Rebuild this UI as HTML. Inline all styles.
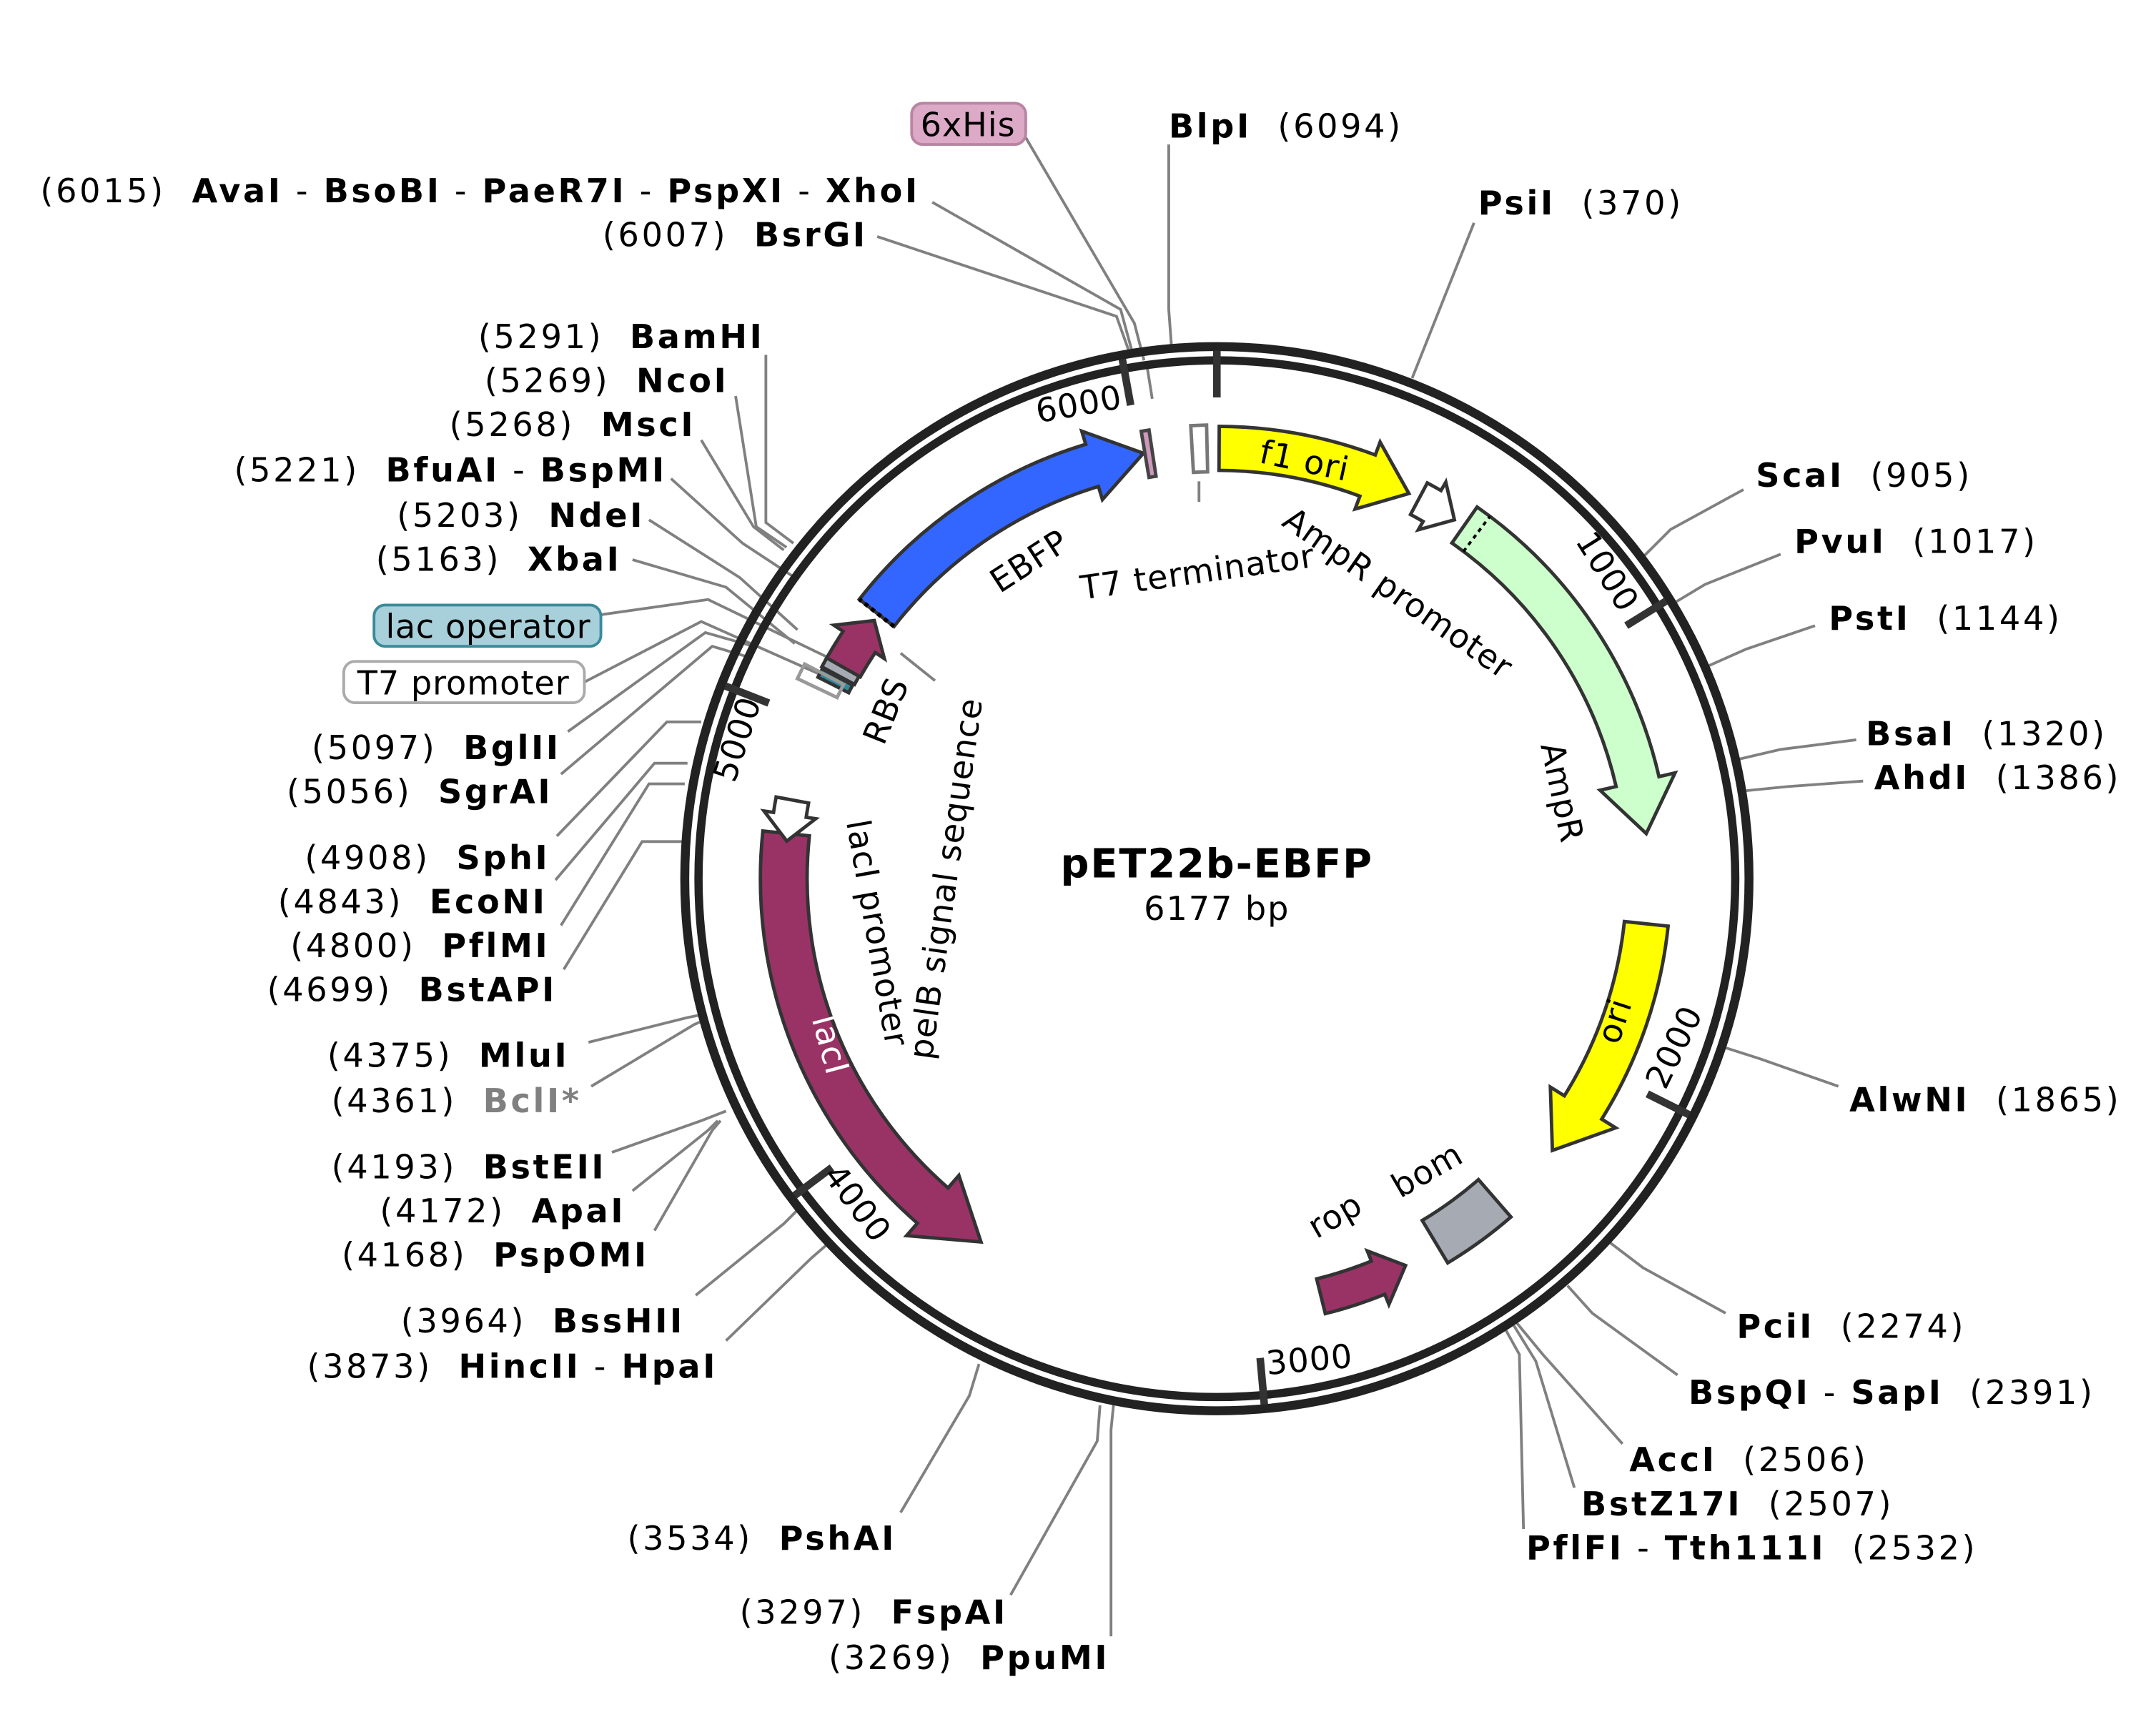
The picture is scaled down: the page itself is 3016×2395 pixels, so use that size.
<!DOCTYPE html>
<html><head><meta charset="utf-8"><style>
html,body{margin:0;padding:0;background:#fff;}
svg{display:block;}
text{font-family:"DejaVu Sans","Liberation Sans",sans-serif;font-size:24px;letter-spacing:1.9px;fill:#000;}
.b{font-weight:bold;}
.ft{font-size:24px;letter-spacing:0.5px;}
</style></head><body>
<svg id="s" xmlns="http://www.w3.org/2000/svg" width="3016" height="2395" viewBox="0 0 1568 1245">
<rect width="1568" height="1245" fill="#fff"/>
<g id="leaders" fill="none" stroke="#808080" stroke-width="2">
<polyline points="850,105 850,225 852,252"/>
<polyline points="1072,162 1027,275"/>
<polyline points="1268,356 1215,385 1195,405"/>
<polyline points="1295,403 1240,425 1215,440"/>
<polyline points="1320,455 1270,472 1243,484"/>
<polyline points="1350,538 1295,545 1265,552"/>
<polyline points="1355,568 1300,572 1270,575"/>
<polyline points="1337,790 1280,770 1255,762"/>
<polyline points="1255,955 1195,922 1170,903"/>
<polyline points="1220,1000 1158,955 1140,935"/>
<polyline points="1180,1050 1122,985 1103,962"/>
<polyline points="1145,1082 1117,990 1101,964"/>
<polyline points="1108,1112 1105,985 1095,967"/>
<polyline points="808,1190 808,1040 810,1020"/>
<polyline points="735,1160 798,1048 800,1022"/>
<polyline points="655,1100 705,1015 712,992"/>
<polyline points="528,975 590,915 605,902"/>
<polyline points="506,942 570,890 580,880"/>
<polyline points="476,895 518,822 524,815"/>
<polyline points="460,866 515,822 522,815"/>
<polyline points="445,838 510,815 528,808"/>
<polyline points="430,790 505,745 512,742"/>
<polyline points="428,758 500,740 510,738"/>
<polyline points="410,705 467,612 497,612"/>
<polyline points="408,673 472,570 498,570"/>
<polyline points="404,640 476,555 500,555"/>
<polyline points="405,608 485,525 510,525"/>
<polyline points="408,563 518,470 545,478"/>
<polyline points="413,532 513,460 548,470"/>
<polyline points="425,496 510,452 600,492"/>
<polyline points="437,447 515,436 602,478"/>
<polyline points="460,407 528,427 578,468"/>
<polyline points="472,378 538,420 580,458"/>
<polyline points="488,348 540,395 578,420"/>
<polyline points="510,320 548,383 570,400"/>
<polyline points="535,288 550,383 572,398"/>
<polyline points="557,258 557,380 577,395"/>
<polyline points="638,172 812,230 822,258"/>
<polyline points="678,147 815,225 824,258"/>
<polyline points="746,100 825,235 832,262"/>
<polyline points="834,265 838,290"/>
<polyline points="872,350 872,365"/>
<polyline points="655,475 680,495"/>
</g>
<circle cx="885" cy="639" r="387" fill="none" stroke="#222" stroke-width="6.5"/>
<circle cx="885" cy="639" r="377" fill="none" stroke="#222" stroke-width="6"/>
<g id="ticks" stroke="#333" stroke-width="5.5"></g>
<g id="feat" stroke="#333" stroke-width="2.5" stroke-linejoin="miter"></g>

<text x="850" y="100"><tspan class="b">BlpI</tspan>&#160;&#160;(6094)</text>
<text x="1075" y="156"><tspan class="b">PsiI</tspan>&#160;&#160;(370)</text>
<text x="1277" y="354"><tspan class="b">ScaI</tspan>&#160;&#160;(905)</text>
<text x="1305" y="402"><tspan class="b">PvuI</tspan>&#160;&#160;(1017)</text>
<text x="1330" y="458"><tspan class="b">PstI</tspan>&#160;&#160;(1144)</text>
<text x="1357" y="542"><tspan class="b">BsaI</tspan>&#160;&#160;(1320)</text>
<text x="1363" y="574"><tspan class="b">AhdI</tspan>&#160;&#160;(1386)</text>
<text x="1345" y="808"><tspan class="b">AlwNI</tspan>&#160;&#160;(1865)</text>
<text x="1263" y="973"><tspan class="b">PciI</tspan>&#160;&#160;(2274)</text>
<text x="1228" y="1021"><tspan class="b">BspQI</tspan> - <tspan class="b">SapI</tspan>&#160;&#160;(2391)</text>
<text x="1185" y="1070"><tspan class="b">AccI</tspan>&#160;&#160;(2506)</text>
<text x="1150" y="1102"><tspan class="b">BstZ17I</tspan>&#160;&#160;(2507)</text>
<text x="1110" y="1134"><tspan class="b">PflFI</tspan> - <tspan class="b">Tth111I</tspan>&#160;&#160;(2532)</text>
<text x="807" y="1214" text-anchor="end">(3269)&#160;&#160;<tspan class="b">PpuMI</tspan></text>
<text x="733" y="1181" text-anchor="end">(3297)&#160;&#160;<tspan class="b">FspAI</tspan></text>
<text x="652" y="1127" text-anchor="end">(3534)&#160;&#160;<tspan class="b">PshAI</tspan></text>
<text x="522" y="1002" text-anchor="end">(3873)&#160;&#160;<tspan class="b">HincII</tspan> - <tspan class="b">HpaI</tspan></text>
<text x="498" y="969" text-anchor="end">(3964)&#160;&#160;<tspan class="b">BssHII</tspan></text>
<text x="472" y="921" text-anchor="end">(4168)&#160;&#160;<tspan class="b">PspOMI</tspan></text>
<text x="455" y="889" text-anchor="end">(4172)&#160;&#160;<tspan class="b">ApaI</tspan></text>
<text x="441" y="857" text-anchor="end">(4193)&#160;&#160;<tspan class="b">BstEII</tspan></text>
<text x="423" y="809" text-anchor="end">(4361)&#160;&#160;<tspan class="b" style="fill:#808080">BclI*</tspan></text>
<text x="414" y="776" text-anchor="end">(4375)&#160;&#160;<tspan class="b">MluI</tspan></text>
<text x="405" y="728" text-anchor="end">(4699)&#160;&#160;<tspan class="b">BstAPI</tspan></text>
<text x="400" y="696" text-anchor="end">(4800)&#160;&#160;<tspan class="b">PflMI</tspan></text>
<text x="398" y="664" text-anchor="end">(4843)&#160;&#160;<tspan class="b">EcoNI</tspan></text>
<text x="400" y="632" text-anchor="end">(4908)&#160;&#160;<tspan class="b">SphI</tspan></text>
<text x="402" y="584" text-anchor="end">(5056)&#160;&#160;<tspan class="b">SgrAI</tspan></text>
<text x="408" y="552" text-anchor="end">(5097)&#160;&#160;<tspan class="b">BglII</tspan></text>
<rect x="250" y="481" width="175" height="30" rx="8" fill="#fff" stroke="#aaa" stroke-width="2"/>
<text x="337" y="505" text-anchor="middle" style="letter-spacing:0.5px">T7 promoter</text>
<rect x="272" y="440" width="165" height="30" rx="8" fill="#a8d0da" stroke="#3a8a9a" stroke-width="2"/>
<text x="355" y="464" text-anchor="middle" style="letter-spacing:0.3px">lac operator</text>
<text x="452" y="415" text-anchor="end">(5163)&#160;&#160;<tspan class="b">XbaI</tspan></text>
<text x="469" y="383" text-anchor="end">(5203)&#160;&#160;<tspan class="b">NdeI</tspan></text>
<text x="485" y="350" text-anchor="end">(5221)&#160;&#160;<tspan class="b">BfuAI</tspan> - <tspan class="b">BspMI</tspan></text>
<text x="506" y="317" text-anchor="end">(5268)&#160;&#160;<tspan class="b">MscI</tspan></text>
<text x="530" y="285" text-anchor="end">(5269)&#160;&#160;<tspan class="b">NcoI</tspan></text>
<text x="556" y="253" text-anchor="end">(5291)&#160;&#160;<tspan class="b">BamHI</tspan></text>
<text x="631" y="179" text-anchor="end">(6007)&#160;&#160;<tspan class="b">BsrGI</tspan></text>
<text x="669" y="147" text-anchor="end">(6015)&#160;&#160;<tspan class="b">AvaI</tspan> - <tspan class="b">BsoBI</tspan> - <tspan class="b">PaeR7I</tspan> - <tspan class="b">PspXI</tspan> - <tspan class="b">XhoI</tspan></text>
<rect x="663" y="75" width="83" height="30" rx="8" fill="#dcaac6" stroke="#b984a2" stroke-width="2"/>
<text x="704" y="99" text-anchor="middle" style="letter-spacing:0.5px">6xHis</text>

<text x="885" y="638" text-anchor="middle" class="b" style="font-size:29px;letter-spacing:1px">pET22b-EBFP</text>
<text x="885" y="669" text-anchor="middle" style="letter-spacing:1px">6177 bp</text>

<text class="ft" transform="translate(786,302) rotate(-10)" text-anchor="middle">6000</text>
<text class="ft" transform="translate(1162,420) rotate(58)" text-anchor="middle">1000</text>
<text class="ft" transform="translate(1225,765) rotate(-64)" text-anchor="middle">2000</text>
<text class="ft" transform="translate(953,997) rotate(-5)" text-anchor="middle">3000</text>
<text class="ft" transform="translate(617,880) rotate(53)" text-anchor="middle">4000</text>
<text class="ft" transform="translate(544,540) rotate(-72)" text-anchor="middle">5000</text>

<text class="ft" transform="translate(753,415) rotate(-33)" text-anchor="middle">EBFP</text>
<text class="ft" transform="translate(872,424) rotate(-8)" text-anchor="middle">T7 terminator</text>
<text class="ft" transform="translate(947,343) rotate(12)" text-anchor="middle">f1 ori</text>
<text class="ft" transform="translate(1012,438) rotate(35)" text-anchor="middle">AmpR promoter</text>
<text class="ft" transform="translate(1128,578) rotate(78)" text-anchor="middle">AmpR</text>
<text class="ft" transform="translate(1182,745) rotate(-72)" text-anchor="middle">ori</text>
<text class="ft" transform="translate(1042,858) rotate(-30)" text-anchor="middle">bom</text>
<text class="ft" transform="translate(975,891) rotate(-30)" text-anchor="middle">rop</text>
<text class="ft" transform="translate(596,762) rotate(75)" text-anchor="middle" style="fill:#fff">lacI</text>
<text class="ft" transform="translate(630,680) rotate(80)" text-anchor="middle">lacI promoter</text>
<text class="ft" transform="translate(696,640) rotate(-82)" text-anchor="middle">pelB signal sequence</text>
<text class="ft" transform="translate(652,520) rotate(-68)" text-anchor="middle">RBS</text>
</svg>
<script>
(function(){
var NS="http://www.w3.org/2000/svg",cx=885,cy=639;
function P(r,a){a=a*Math.PI/180;return [(cx+r*Math.sin(a)).toFixed(2),(cy-r*Math.cos(a)).toFixed(2)];}
function arc(r,a1,a2){var p=P(r,a2);var sw=a2>a1?1:0;var lg=Math.abs(a2-a1)>180?1:0;return "A"+r+","+r+" 0 "+lg+","+sw+" "+p[0]+","+p[1];}
var g=document.getElementById("feat");
function add(d,fill,extra){var e=document.createElementNS(NS,"path");e.setAttribute("d",d);e.setAttribute("fill",fill);if(extra)for(var k in extra)e.setAttribute(k,extra[k]);g.appendChild(e);}
function arrow(a1,a2,ri,ro,h,e,fill){
 var d=a2>a1?1:-1;var ah=a2-d*h;var rm=(ri+ro)/2;
 var p1=P(ro,a1),p3=P(ro+e,ah),pt=P(rm,a2),p4=P(ri-e,ah),p5=P(ri,ah);
 var s="M"+p1[0]+","+p1[1]+arc(ro,a1,ah)+"L"+p3[0]+","+p3[1]+"L"+pt[0]+","+pt[1]+"L"+p4[0]+","+p4[1]+"L"+p5[0]+","+p5[1]+arc(ri,ah,a1)+"Z";
 add(s,fill);
}
function box(a1,a2,ri,ro,fill,sc){
 var p1=P(ro,a1),p5=P(ri,a2);
 add("M"+p1[0]+","+p1[1]+arc(ro,a1,a2)+"L"+p5[0]+","+p5[1]+arc(ri,a2,a1)+"Z",fill,sc?{stroke:sc}:null);
}
arrow(-52,-9.8,298,330,7,10,"#3366ff");
arrow(0.3,26.5,297,329,6,10,"#ffff00");
arrow(28,33.5,300,326,3.5,7,"#ffffff");
arrow(35,84,298,330,7,12,"#ccffcc");
arrow(96,129,298,330,7,12,"#ffff00");
arrow(-84,-147,298,332,8,12,"#993366");
arrow(-79.5,-85,302,326,3.5,7,"#ffffff");
arrow(166,154,300,326,4,8,"#993366");
box(139,149,290,326,"#a6abb3");
box(-3.3,-1.3,296,330,"#ffffff","#777");
box(-9.6,-8.6,296,330,"#cc99bb","#444");
arrow(-60.5,-53,298,326,3.5,8,"#993366");
box(-61.8,-60.5,299,326,"#a6abb3");
box(-63.2,-62,300,325,"#2e8b9e");
box(-64.5,-62.5,306,338,"none","#999");
var q1=P(298,-52),q2=P(330,-52);
add("M"+q1[0]+","+q1[1]+"L"+q2[0]+","+q2[1],"none",{stroke:"#000","stroke-dasharray":"3,3","stroke-width":"3"});
var q3=P(298,37),q4=P(330,37);
add("M"+q3[0]+","+q3[1]+"L"+q4[0]+","+q4[1],"none",{stroke:"#000","stroke-dasharray":"3,3","stroke-width":"2"});
var t=document.getElementById("ticks");
[0,1000,2000,3000,4000,5000,6000].forEach(function(bp){var a=bp/6177*360;var p=P(350,a),q=P(384,a);var l=document.createElementNS(NS,"line");l.setAttribute("x1",p[0]);l.setAttribute("y1",p[1]);l.setAttribute("x2",q[0]);l.setAttribute("y2",q[1]);t.appendChild(l);});
})();
</script>
</body></html>
